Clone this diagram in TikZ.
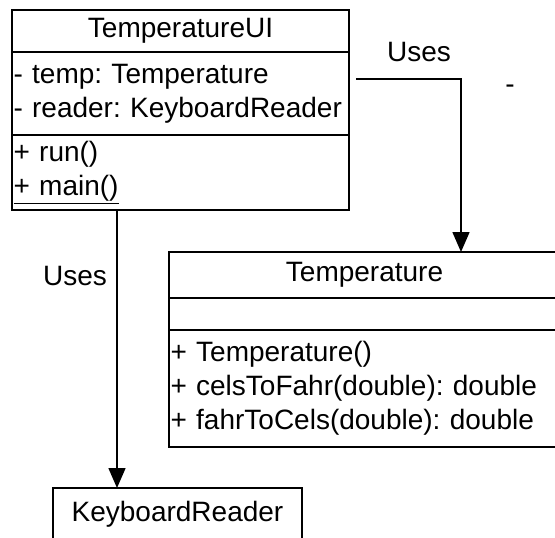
\documentclass[tikz,border=0pt]{standalone}
\usepackage{fontspec}
\setmainfont{Liberation Sans}
\usetikzlibrary{positioning,arrows.meta}
\frenchspacing
\hyphenpenalty=10000
\exhyphenpenalty=10000

\tikzset{
  box/.style={draw,line width=1.6pt,inner sep=0pt,outer sep=0pt},
  boxl/.style={box,align=left,inner xsep=1.5pt},
  uses/.style={-{Triangle[length=20pt,width=17pt]},line width=1.6pt},
  lbl/.style={inner sep=0pt}
}

\begin{document}
\begin{tikzpicture}[x=1pt,y=-1pt,font=\fontsize{28}{34}\selectfont]
\useasboundingbox (0,0) rectangle (555,538);
\clip (0,0) rectangle (555,538);
% TemperatureUI
\node[box,anchor=north west,minimum width=337pt,minimum height=42pt] (uiH) at (12,10) {TemperatureUI};
\node[boxl,below=0pt of uiH,text width=334pt,minimum height=83pt] (uiA) {- temp: Temperature\\- reader: KeyboardReader};
\node[boxl,below=0pt of uiA,text width=334pt,minimum height=75pt] (uiM) {+ run()\\\underline{+ main()}};
% Temperature
\node[box,anchor=north west,minimum width=391pt,minimum height=46pt] (tpH) at (169,252) {Temperature};
\node[box,below=0pt of tpH,minimum width=391pt,minimum height=32pt] (tpE) {};
\node[boxl,below=0pt of tpE,text width=388pt,minimum height=117pt] (tpM) {+ Temperature()\\+ celsToFahr(double): double\\+ fahrToCels(double): double};
% KeyboardReader
\node[box,anchor=north west,minimum width=249pt,minimum height=53pt] (kr) at (53,488) {KeyboardReader};
% connectors
\draw[uses] ([xshift=7pt,yshift=-27pt]uiA.north east) -| ([xshift=292pt]tpH.north west);
\draw[uses] ([xshift=105pt]uiM.south west) -- ([xshift=64pt]kr.north west);
\node[lbl] (usesT) at (419,52) {Uses};
\node[lbl] (usesK) at (75,276) {Uses};
\node[lbl] (dash) at (510,89) {-};
\end{tikzpicture}
\end{document}
